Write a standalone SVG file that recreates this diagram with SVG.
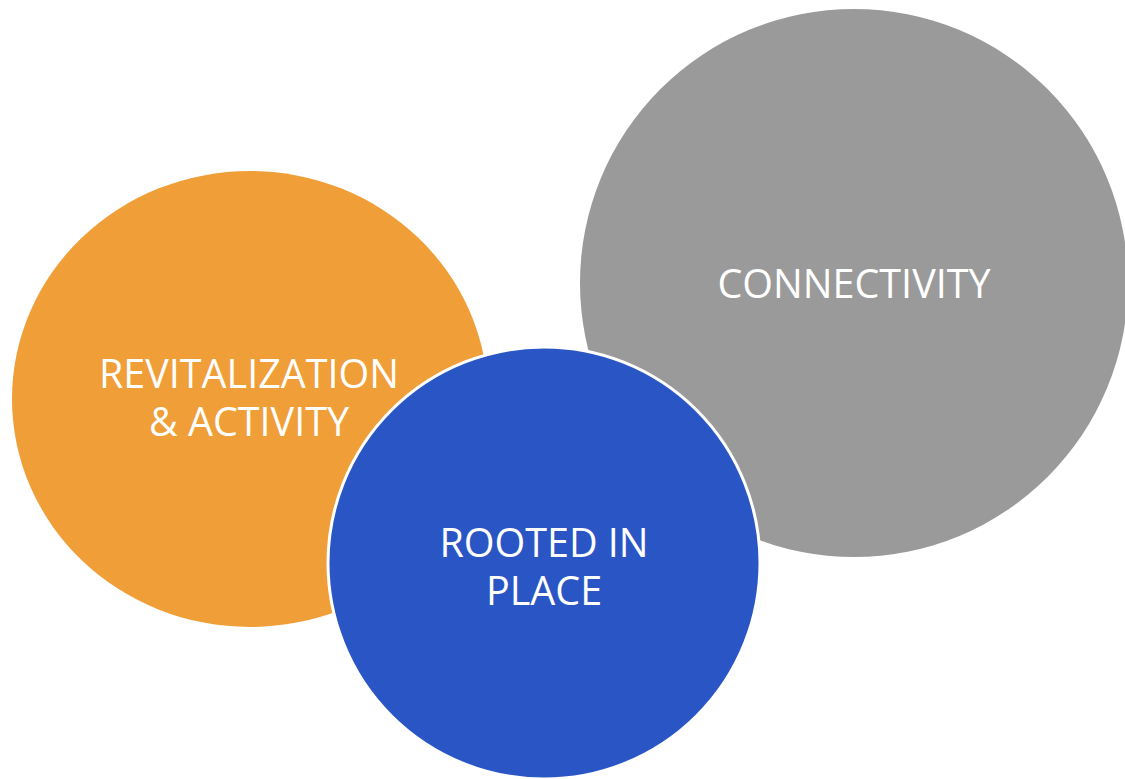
<svg xmlns="http://www.w3.org/2000/svg" width="1125" height="779" viewBox="0 0 1125 779">
<style>
.lbl{font-family:"Open Sans","Liberation Sans",sans-serif;font-size:39.5px;fill:#ffffff;text-anchor:middle;}
</style>
<rect width="1125" height="779" fill="#ffffff"/>
<g id="connectors"></g>
<g id="node-revitalization">
<ellipse cx="250" cy="399" rx="238" ry="228" fill="#F09E38"/>
<text class="lbl" x="249" y="388">REVITALIZATION</text>
<text class="lbl" x="249" y="436">&amp; ACTIVITY</text>
</g>
<g id="node-connectivity">
<circle cx="854" cy="283" r="274" fill="#9A9A9A"/>
<text class="lbl" x="854" y="298">CONNECTIVITY</text>
</g>
<g id="node-rooted">
<circle cx="544" cy="563" r="216" fill="#2A55C4" stroke="#ffffff" stroke-width="3"/>
<text class="lbl" x="544" y="557">ROOTED IN</text>
<text class="lbl" x="544" y="605">PLACE</text>
</g>
</svg>
